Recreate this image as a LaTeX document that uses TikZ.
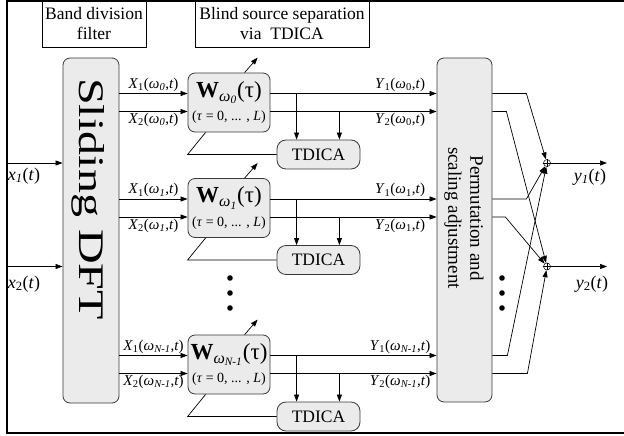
\documentclass[tikz,border=0pt]{standalone}
\usepackage{fontspec}
\setmainfont{Liberation Serif}
\usepackage{tikz}
\usetikzlibrary{arrows.meta, positioning, calc}
\definecolor{BlockGray}{HTML}{EBEBEB}
\definecolor{BlockEdge}{HTML}{3A3A3A}
\newcommand{\sig}[3]{\textit{#1}\textsubscript{#2}(\textit{ω}\textsubscript{#3},\textit{t})}
\tikzset{
  blk/.style={draw=BlockEdge, fill=BlockGray, rounded corners=7pt, line width=0.8pt, inner sep=0pt},
  tag/.style={draw, fill=white, align=center, inner sep=0pt, line width=0.6pt, font=\fontsize{17.5}{20}\selectfont},
  arr/.style={-{Triangle[length=7pt,width=5pt]}},
  sig/.style={font=\fontsize{15}{15}\selectfont, inner sep=1.5pt},
  io/.style={font=\fontsize{18}{18}\selectfont, inner sep=0pt},
}

\begin{document}
\begin{tikzpicture}[x=1pt, y=-1pt, line width=0.7pt]
    \useasboundingbox (0,0) rectangle (624,436);

    % Frame
    \draw[line width=2pt] (624,1) -- (6.5,1) -- (6.5,433) -- (624,433);

    % Titles
    \node[tag, minimum width=104, minimum height=46] (band) at (94,24) {Band division\\filter};
    \node[tag, minimum width=174, minimum height=46] (bss) at (282,24) {Blind source separation\\via\ \ TDICA};

    % Sliding DFT and permutation blocks
    \node[blk, minimum width=56, minimum height=345] (dft) at (91,230.5) {};
    \node[rotate=-90, inner sep=0pt] (dfttxt) at (88,199) {\scalebox{1}[0.75]{\fontsize{48}{48}\selectfont Sliding DFT}};
    \node[blk, minimum width=55, minimum height=344] (perm) at (464.5,230) {};
    \node[rotate=-90, align=center, font=\fontsize{19}{22}\selectfont] (permtxt) at (464,218) {Permutation and\\scaling adjustment};

    % Inputs
    \coordinate (x1) at (6.5,163);
    \coordinate (x2) at (6.5,266.5);
    \draw[arr] (x1) -- (dft.west |- x1);
    \draw[arr] (x2) -- (dft.west |- x2);
    \node[io] (x1lbl) at (24,176) {\textit{x}\textsubscript{\textit{1}}(\textit{t})};
    \node[io] (x2lbl) at (24,284) {\textit{x}\textsubscript{2}(\textit{t})};

    % Sums and outputs
    \node[circle, draw, inner sep=0pt, minimum size=7pt, line width=0.5pt] (s1) at (547,163) {};
    \node[circle, draw, inner sep=0pt, minimum size=7pt, line width=0.5pt] (s2) at (547,266.5) {};
    \draw[line width=0.5pt] (s1.north) -- (s1.south) (s1.west) -- (s1.east);
    \draw[line width=0.5pt] (s2.north) -- (s2.south) (s2.west) -- (s2.east);
    \coordinate (y1) at (607,163);
    \coordinate (y2) at (607,266.5);
    \draw[arr] (s1) -- (y1);
    \draw[arr] (s2) -- (y2);
    \node[io] (y1lbl) at (590,177) {\textit{y}\textsubscript{\textit{1}}(\textit{t})};
    \node[io] (y2lbl) at (592,284) {\textit{y}\textsubscript{2}(\textit{t})};

    % Frequency bins
    \foreach \b/\yc/\w/\v/\ua/\ub in {a/102.5/\textit{0}/0/34/14, b/208/\textit{1}/1/34/13, c/364.5/\textit{N-1}/\textit{N-1}/15/35} {
        \node[blk, minimum width=82, minimum height=59, align=center] (W\b) at (229,\yc)
            {\fontsize{23}{23}\selectfont\textbf{W}\textsubscript{\textit{ω}\textsubscript{\w}}(τ)\\[6pt]
             \fontsize{14}{14}\selectfont(\textit{τ} = 0, ... , \textit{L})};
        \node[blk, rounded corners=9pt, minimum width=83, minimum height=29, font=\fontsize{17.5}{17.5}\selectfont] (T\b) at (318.5,\yc+52) {TDICA};
        \coordinate (in1\b) at ($(W\b.west)+(0,-9)$);
        \coordinate (in2\b) at ($(W\b.west)+(0,9)$);
        \coordinate (out1\b) at ($(W\b.east)+(0,-9)$);
        \coordinate (out2\b) at ($(W\b.east)+(0,9)$);
        \coordinate (tap1\b) at ($(T\b.north west)+(20,0)$);
        \coordinate (tap2\b) at ($(T\b.north east)+(-21,0)$);
        \draw[arr] (dft.east |- in1\b) -- node[sig, above] (X1\b) {\sig{X}{1}{\w}} (in1\b);
        \draw[arr] (dft.east |- in2\b) -- node[sig, below] (X2\b) {\sig{X}{2}{\w}} (in2\b);
        \draw[arr] (out1\b) -- node[sig, above, pos=0.78] (Y1\b) {\sig{Y}{1}{\v}} (perm.west |- out1\b);
        \draw[arr] (out2\b) -- node[sig, below, pos=0.78] (Y2\b) {\sig{Y}{2}{\v}} (perm.west |- out2\b);
        \draw[arr] (tap1\b |- out1\b) -- (tap1\b);
        \draw[arr] (tap2\b |- out2\b) -- (tap2\b);
        \draw (T\b.west) -- (W\b.west |- T\b.west) -- ($(W\b.south west)+(18,0)$);
        \draw[arr] ($(W\b.north west)+(57,0)$) -- ++(13,-15);
        \draw[arr] (perm.east |- out1\b) -- ++(\ua,0) -- (s1);
        \draw[arr] (perm.east |- out2\b) -- ++(\ub,0) -- (s2);
    }

    % Dots
    \foreach \d in {278,293,308} {
        \fill (230,\d) circle (2.8pt);
        \fill (502,\d) circle (2.8pt);
    }
\end{tikzpicture}
\end{document}
